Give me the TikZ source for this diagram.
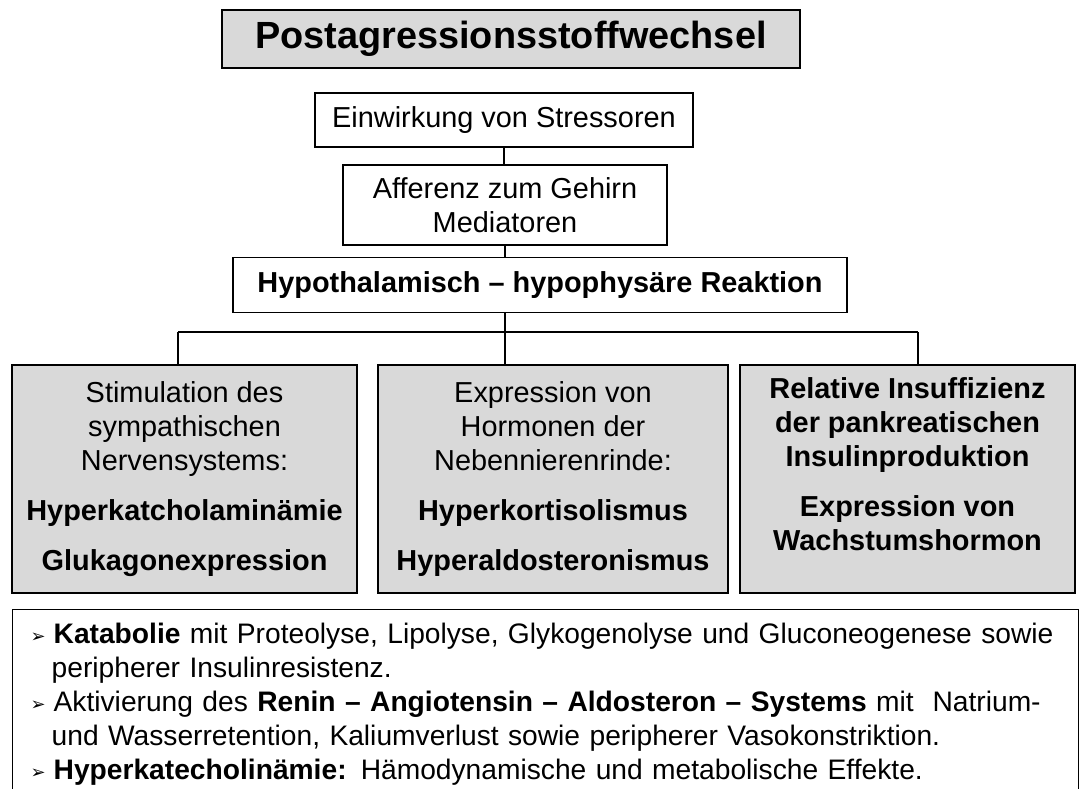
\documentclass[tikz,border=0pt]{standalone}
\usepackage{fontspec}
\setmainfont{Liberation Sans}
\newfontfamily\zeichen{DejaVu Sans}
\definecolor{hellgrau}{RGB}{217,217,217}
\newcommand{\pfeil}{\makebox[23bp][l]{\zeichen\fontsize{18}{18}\selectfont\raisebox{1bp}{➢}}}

\begin{document}
\begin{tikzpicture}[x=1bp,y=1bp]
        \tikzstyle{every node}+=[inner sep=0pt]
        \tikzstyle{kasten}=[draw=black, line width=1.3bp, align=center, font=\fontsize{29}{34}\selectfont]
        \tikzstyle{grau}=[kasten, fill=hellgrau, minimum width=345bp, minimum height=228bp]
        \useasboundingbox (0,0) rectangle (1080,-789);
        \fill [white] (0,0) rectangle (1080,-789);
        % Titel
        \node [kasten, fill=hellgrau, line width=2bp, minimum width=578bp, minimum height=58bp,
               font=\bfseries\fontsize{38}{40}\selectfont] (titel) at (511,-39) {Postagressionsstoffwechsel};
        % Kette oben
        \node [kasten, minimum width=378bp, minimum height=54bp] (stress) at (504,-120) {Einwirkung von Stressoren};
        \node [kasten, minimum width=324bp, minimum height=80bp] (afferenz) at (505,-205) {Afferenz zum Gehirn\\Mediatoren};
        \node [kasten, minimum width=614bp, minimum height=55bp, font=\bfseries\fontsize{29}{34}\selectfont] (hypo) at (540,-285) {Hypothalamisch – hypophysäre Reaktion};
        % drei Wirkungen
        \node [grau] (sympath) at (184.5,-479) {Stimulation des\\sympathischen\\Nervensystems:\\[16bp]\textbf{Hyperkatcholaminämie}\\[16bp]\textbf{Glukagonexpression}};
        \node [grau, minimum width=350bp] (nnr) at (553,-479) {Expression von\\Hormonen der\\Nebennierenrinde:\\[16bp]\textbf{Hyperkortisolismus}\\[16bp]\textbf{Hyperaldosteronismus}};
        \node [grau, minimum width=335bp, font=\bfseries\fontsize{29}{34}\selectfont] (insulin) at (907.5,-479) {Relative Insuffizienz\\der pankreatischen\\Insulinproduktion\\[16bp]Expression von\\Wachstumshormon\\[-4bp]\mbox{}};
        % Effekte
        \node [draw=black, line width=1.3bp, anchor=north west, minimum width=1066bp,
               text width=1030bp, inner xsep=16bp, inner ysep=12bp, align=left,
               font=\fontsize{28.3}{34}\selectfont] (effekte) at (12,-609)
              {\rule{0pt}{22bp}\pfeil\textbf{Katabolie} mit Proteolyse, Lipolyse, Glykogenolyse und Gluconeogenese sowie\\
               \hspace*{21bp}peripherer Insulinresistenz.\\
               \pfeil Aktivierung des \textbf{Renin – Angiotensin – Aldosteron – Systems} mit\ \ Natrium-\\
               \hspace*{21bp}und Wasserretention, Kaliumverlust sowie peripherer Vasokonstriktion.\\
               \pfeil\textbf{Hyperkatecholinämie:} Hämodynamische und metabolische Effekte.\\[30bp]\mbox{}};
        % Verbindungen
        \coordinate (busL) at (178,-332);
        \coordinate (busR) at (918,-332);
        \draw [line width=1.3bp] (stress.south) -- (stress.south |- afferenz.north);
        \draw [line width=1.3bp] (afferenz.south) -- (afferenz.south |- hypo.north);
        \draw [line width=1.3bp] (afferenz.south |- hypo.south) -- (afferenz.south |- nnr.north);
        \draw [line width=1.3bp] (busL) -- (busR);
        \draw [line width=1.3bp] (busL) -- (busL |- sympath.north);
        \draw [line width=1.3bp] (busR) -- (busR |- insulin.north);
\end{tikzpicture}
\end{document}
